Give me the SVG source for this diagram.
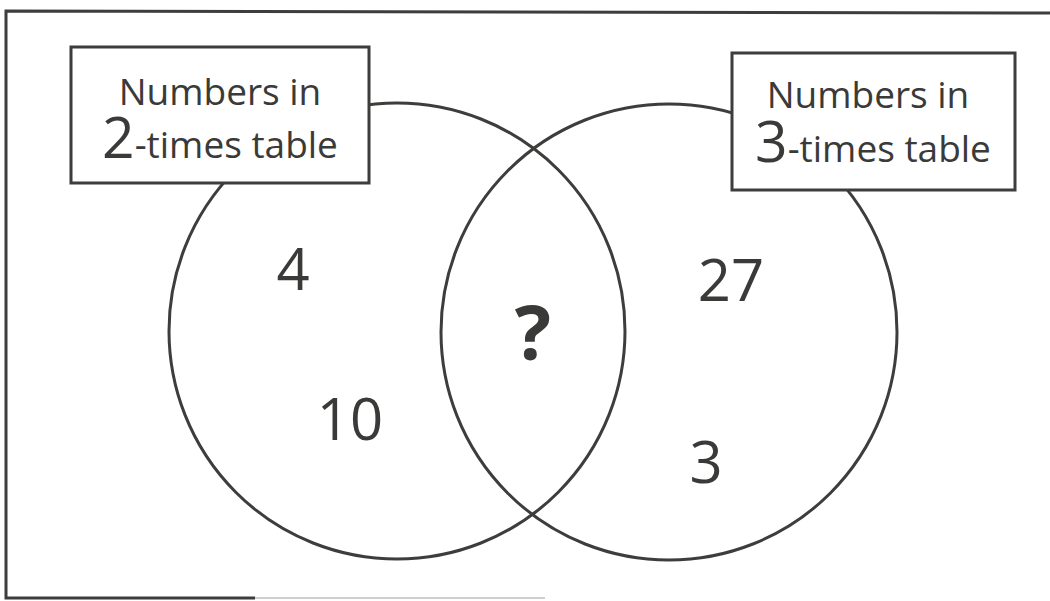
<svg xmlns="http://www.w3.org/2000/svg" width="1050" height="601" viewBox="0 0 1050 601">
  <style>
    .ln { fill: none; stroke: #3d3d3b; stroke-width: 3; }
    .box { fill: #ffffff; stroke: #3d3d3b; stroke-width: 3; }
    .lbl { font-family: "Open Sans", "Noto Sans", "Liberation Sans", sans-serif; font-size: 37px; fill: #3a3a38; text-anchor: middle; }
    .big { font-size: 57px; }
    .num { font-family: "Open Sans", "Noto Sans", "Liberation Sans", sans-serif; font-size: 58px; fill: #3a3a38; text-anchor: middle; }
    .q { font-family: "Open Sans", "Noto Sans", "Liberation Sans", sans-serif; font-size: 76px; font-weight: bold; fill: #3a3a38; text-anchor: middle; }
  </style>
  <rect width="1050" height="601" fill="#ffffff"/>
  <g id="frame">
    <path class="ln" d="M 255 598 L 6 598 L 6 11 L 1050 13"/>
    <path d="M 255 598 L 545 598" fill="none" stroke="#cfcfcf" stroke-width="2"/>
  </g>
  <g id="connectors">
    <circle id="set-2" class="ln" cx="397" cy="331" r="228"/>
    <circle id="set-3" class="ln" cx="669" cy="332" r="228"/>
  </g>
  <g id="label-2">
    <rect class="box" x="71" y="47" width="298" height="136"/>
    <text class="lbl" x="220" y="105">Numbers in</text>
    <text class="lbl" x="220" y="158"><tspan class="big">2</tspan>-times table</text>
  </g>
  <g id="label-3">
    <rect class="box" x="732" y="53" width="283" height="137"/>
    <text class="lbl" x="868" y="108">Numbers in</text>
    <text class="lbl" x="873" y="162"><tspan class="big">3</tspan>-times table</text>
  </g>
  <g id="values">
    <text class="num" x="293" y="290">4</text>
    <text class="num" x="350" y="440">10</text>
    <text class="q" x="533" y="360">?</text>
    <text class="num" x="731" y="301">27</text>
    <text class="num" x="706" y="483">3</text>
  </g>
</svg>
